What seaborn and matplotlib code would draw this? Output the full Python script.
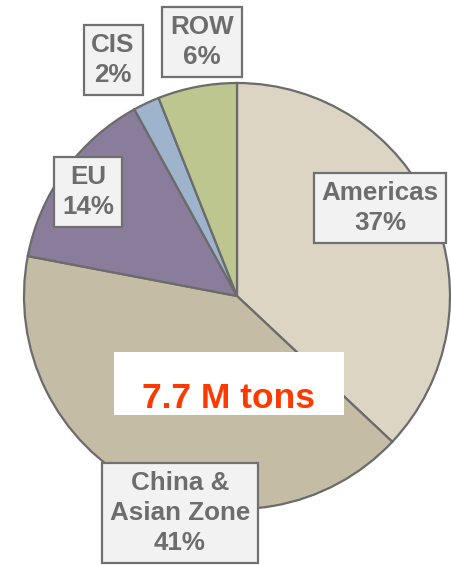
import matplotlib
matplotlib.use("Agg")
import matplotlib.pyplot as plt
from matplotlib.patches import Rectangle
import seaborn as sns

# Production share by region (percent), drawn clockwise from 12 o'clock
regions = ["Americas", "China &\nAsian Zone", "EU", "CIS", "ROW"]
shares = [37, 41, 14, 2, 6]
total_label = "7.7 M tons"

slice_colors = ["#DCD5C3", "#C4BCA5", "#8A7D9C", "#9EB3CC", "#BDC68F"]

# Callout box centres in data units (pie radius = 1)
label_pos = [(0.671, 0.413), (-0.268, -1.019), (-0.700, 0.488),
             (-0.582, 1.108), (-0.164, 1.192)]

sns.set_style("white")
plt.rcParams["font.family"] = ["Liberation Sans", "DejaVu Sans"]

fig = plt.figure(figsize=(4.52, 5.65), dpi=100)
ax = fig.add_axes([0, 0, 1, 1])
ax.pie(shares, colors=sns.color_palette(slice_colors), startangle=90,
       counterclock=False, radius=1.0,
       wedgeprops=dict(edgecolor="#6B6B6B", linewidth=1.6))

for name, val, (x, y) in zip(regions, shares, label_pos):
    ax.text(x, y, f"{name}\n{val}%", ha="center", va="center",
            fontsize=18.7, fontweight="bold", color="#6D6D6D",
            linespacing=1.32,
            bbox=dict(boxstyle="square,pad=0.3", facecolor="#F2F2F2",
                      edgecolor="#707070", linewidth=1.6))

# White panel carrying the total volume
ax.add_patch(Rectangle((-0.577, -0.559), 1.080, 0.296,
                       facecolor="white", edgecolor="none", zorder=3))
ax.text(-0.038, -0.482, total_label, ha="center", va="center",
        fontsize=25.5, fontweight="bold", color="#FF3A00", zorder=4)

ax.set_xlim(-237 / 213, 215 / 213)
ax.set_ylim(-269 / 213, 296 / 213)
ax.set_aspect("auto")
ax.axis("off")

fig.savefig("out.png", dpi=100)
